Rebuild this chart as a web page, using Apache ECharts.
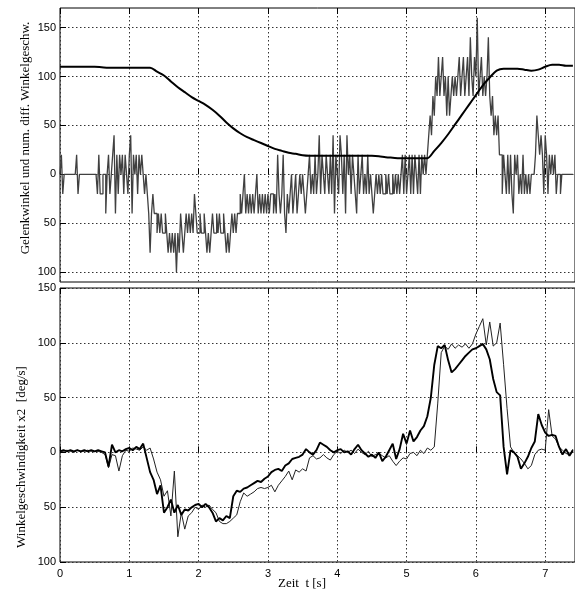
<!DOCTYPE html>
<html><head><meta charset="utf-8">
<script src="https://cdn.jsdelivr.net/npm/echarts@6/dist/echarts.min.js"></script>
<style>html,body{margin:0;padding:0;background:#fff}#c{width:575px;height:593px}</style>
</head><body><div id="c"></div>
<script>
// Tick values
const xTicks = [0, 1, 2, 3, 4, 5, 6, 7];
const yTicks = [-100, -50, 0, 50, 100, 150];

// Top panel: joint angle (sampled every 0.1 s)
const dtAngle = 0.1;
const jointAngle = [110,110,110,110,110,110,109.5,109,109,109,109,109,109,109,105,101,95,89,84,79,
  75,71,66,60,53,47,42,38,35,32,29,26,24,22,21,19.5,19,19,19,19,
  19,19,19,19,19,19,18.5,17.5,17,16.5,16.5,16.5,16.5,16.5,24,32,41,51,61,71,
  81,91,99,106,108,108,108,107,106,107,110,112,112,111,111];

// Top panel: numerically differentiated velocity (sampled every 0.02 s)
const dtDiff = 0.02;
const diffVelocity = [
  0,0,20,-20,0,0,0,0,0,0, 0,0,0,20,-20,0,0,0,0,0, 0,0,0,0,0,0,0,0,-20,20, -20,-20,0,
  0,-40,0,20,-20,0,20,40,-40,20, -20,20,0,20,-20,20,0,-20,20,40, -40,20,0,20,-20,20,0,20,0,-20,
  0,-20,-40,-80,-40,-20,-40,-40,
  -60,-40,-60,-40,-60,-60,-40,-60,-80,-60,
  -80,-60,-80,-60,-100,-60,-80,-40,-60,-80,-60,-40,
  -60,-40,-60,-40,-60,-20,-40,-60,
  -60,-40,-60,-60,-40,-60,-80,-60,-80,-60, -40,-60,-60,-40,-60,-40,-60,-60,-40,-60, -80,-60,-80,-60,-40,-60,-40,-60,-40,-40,
  -20,-40,-20,0,-40,-20,-40,-20,-40,-20, -40,-20,0,-40,-20,-40,-20,-40,-20,-40, -20,-40,-20,-20,-40,-20,-40,20,-20,-40, -20,20,-40,-60,-20,-40,-20,0,-40,-20, 0,-40,-20,0,-20,
  0,-20,-40,-20,0,20,-20,0,-20,20, -20,0,40,-20,20,0,-20,20,0,-20, 20,-20,40,-40,20,0,-20,40,20,-20, 20,-40,40,0,20,-20,20,0,-20,-40, 20,-20,0,20,-20,0,-20,20,-20,0, -20,-40,-20,0,-20,
  0,-20,0,-20,-20,0,-20,0,-20,-20,0,-20,0,-20,0,-20,0,
  20,-20,20,-20,0,20,-20,20,-20,20,0,-20,20,-20,20,0,20,0,
  20,40,60,40,80,60,100,80,
  120,80,100,120,80,100,60,100,60,80,100,80,100,80,100,120,80,100,120,
  80,100,120,80,140,100,80,120,100,160,80,100,120,80,100,80,100,140,
  80,60,80,40,60,40,60,20,
  20,-20,20,0,-20,20,-20,20,-20,-40,20,0,20,-20,0,-20,20,
  -20,0,-20,0,-20,0,0,0,
  20,60,40,20,40,20,-20,40,20,-20,
  20,0,20,0,20,-20,0,0,-20,0,0,0,0,0,0,0,0
];

// Bottom panel: angular velocity x2 (sampled every 0.05 s)
const dtVel = 0.05;
const velocityThick = [
  1,2,1,2,1,2,1,2,1,2,1,2,1,0,-13,7,0,2,1,3,
  4,2,5,3,8,-5,-18,-25,-38,-30,-55,-50,-43,-55,-48,-57,-52,-53,-50,-48,
  -47,-50,-47,-50,-55,-63,-60,-62,-58,-60,-40,-35,-36,-33,-32,-30,-28,-26,-27,-24,
  -22,-18,-16,-15,-17,-12,-10,-6,-5,-4,-2,3,0,-2,2,9,7,5,2,0,
  2,3,0,1,-2,3,7,2,-1,-4,-2,-5,0,-8,-4,2,8,-6,3,17,
  8,20,10,14,20,24,33,50,80,97,95,98,84,73,76,80,84,88,91,94,
  95,97,99,94,85,67,55,52,5,-20,2,0,-4,-15,-10,-4,4,10,35,25,
  18,15,16,15,5,-2,3,-3,2
];
const velocityThin = [
  1,1,2,1,0,2,1,1,2,1,1,1,0,-2,-14,-2,-3,-17,-3,2,
  1,4,3,2,5,2,4,-6,-18,-25,-40,-35,-58,-17,-77,-55,-70,-58,-55,-50,
  -52,-48,-50,-48,-52,-55,-63,-65,-65,-63,-60,-57,-45,-37,-40,-38,-36,-33,-32,-33,
  -32,-30,-36,-30,-26,-22,-17,-25,-16,-18,-15,-17,-5,-3,-6,-5,-2,-5,-7,-2,
  1,-1,2,0,2,-1,3,0,-2,1,-4,-2,-1,-3,-5,-3,-8,-12,-8,-5,
  -6,-1,0,-3,2,-1,4,2,5,45,91,97,94,99,95,98,96,99,95,99,
  108,115,122,98,119,97,100,118,80,40,5,0,-3,-6,-10,-15,-12,-2,2,3,
  2,39,15,12,5,2,-1,-2,3
];

function toPairs(arr, dt) { return arr.map((v, i) => [Math.round(i * dt * 1000) / 1000, v]); }

const chart = echarts.init(document.getElementById('c'), null, { renderer: 'canvas' });
const labelFont = { color: '#000', fontFamily: 'Liberation Sans', fontSize: 11 };
const dotted = { show: true, lineStyle: { color: '#333', type: [1.5, 2.5], width: 1 } };
const XMAX = 7.43;

function xAx(grid, pos, labels, split) {
  return {
    type: 'value', gridIndex: grid, position: pos, min: 0, max: XMAX, interval: 1,
    axisLine: { show: false },
    axisTick: { show: true, inside: true, length: 6, customValues: xTicks, lineStyle: { color: '#000' } },
    axisLabel: labels ? Object.assign({ show: true, margin: 6, customValues: xTicks }, labelFont) : { show: false },
    splitLine: split ? dotted : { show: false }
  };
}

const option = {
  animation: false,
  backgroundColor: '#fff',
  grid: [
    { left: 60, top: 8, width: 518, height: 274, show: true, borderColor: '#000', borderWidth: 1, backgroundColor: 'transparent' },
    { left: 60, top: 288, width: 518, height: 274, show: true, borderColor: '#000', borderWidth: 1, backgroundColor: 'transparent' }
  ],
  xAxis: [
    xAx(0, 'bottom', false, true),
    xAx(0, 'top', false, false),
    xAx(1, 'bottom', true, true),
    xAx(1, 'top', false, false)
  ],
  yAxis: [
    {
      type: 'value', gridIndex: 0, min: -110, max: 170,
      axisLine: { show: false },
      axisTick: { show: true, inside: true, length: 6, customValues: yTicks, lineStyle: { color: '#000' } },
      axisLabel: Object.assign({ margin: 4, customValues: yTicks, formatter: v => String(Math.abs(v)) }, labelFont),
      splitLine: dotted
    },
    {
      type: 'value', gridIndex: 1, min: -100, max: 150, interval: 50,
      axisLine: { show: false },
      axisTick: { show: true, inside: true, length: 6, lineStyle: { color: '#000' } },
      axisLabel: Object.assign({ margin: 4, formatter: v => String(Math.abs(v)) }, labelFont),
      splitLine: dotted
    }
  ],
  series: [
    { type: 'line', xAxisIndex: 0, yAxisIndex: 0, data: toPairs(diffVelocity, dtDiff), showSymbol: false, step: 'start',
      lineStyle: { color: '#404040', width: 1.3 }, itemStyle: { color: '#404040' }, z: 2 },
    { type: 'line', xAxisIndex: 0, yAxisIndex: 0, data: toPairs(jointAngle, dtAngle), showSymbol: false, smooth: 0.3,
      lineStyle: { color: '#000', width: 2 }, itemStyle: { color: '#000' }, z: 3 },
    { type: 'line', xAxisIndex: 2, yAxisIndex: 1, data: toPairs(velocityThin, dtVel), showSymbol: false,
      lineStyle: { color: '#222', width: 1 }, itemStyle: { color: '#222' }, z: 2 },
    { type: 'line', xAxisIndex: 2, yAxisIndex: 1, data: toPairs(velocityThick, dtVel), showSymbol: false,
      lineStyle: { color: '#000', width: 1.9 }, itemStyle: { color: '#000' }, z: 3 }
  ],
  graphic: [
    { type: 'text', x: 26, y: 138, rotation: Math.PI / 2,
      style: { text: 'Gelenkwinkel und num. diff. Winkelgeschw.', font: '13px "Liberation Serif"', fill: '#000', align: 'center', verticalAlign: 'middle' } },
    { type: 'text', x: 22, y: 457, rotation: Math.PI / 2,
      style: { text: 'Winkelgeschwindigkeit x2  [deg/s]', font: '13px "Liberation Serif"', fill: '#000', align: 'center', verticalAlign: 'middle' } },
    { type: 'text', x: 302, y: 584,
      style: { text: 'Zeit  t [s]', font: '13px "Liberation Serif"', fill: '#000', align: 'center', verticalAlign: 'middle' } }
  ]
};
chart.setOption(option);
</script>
</body></html>
